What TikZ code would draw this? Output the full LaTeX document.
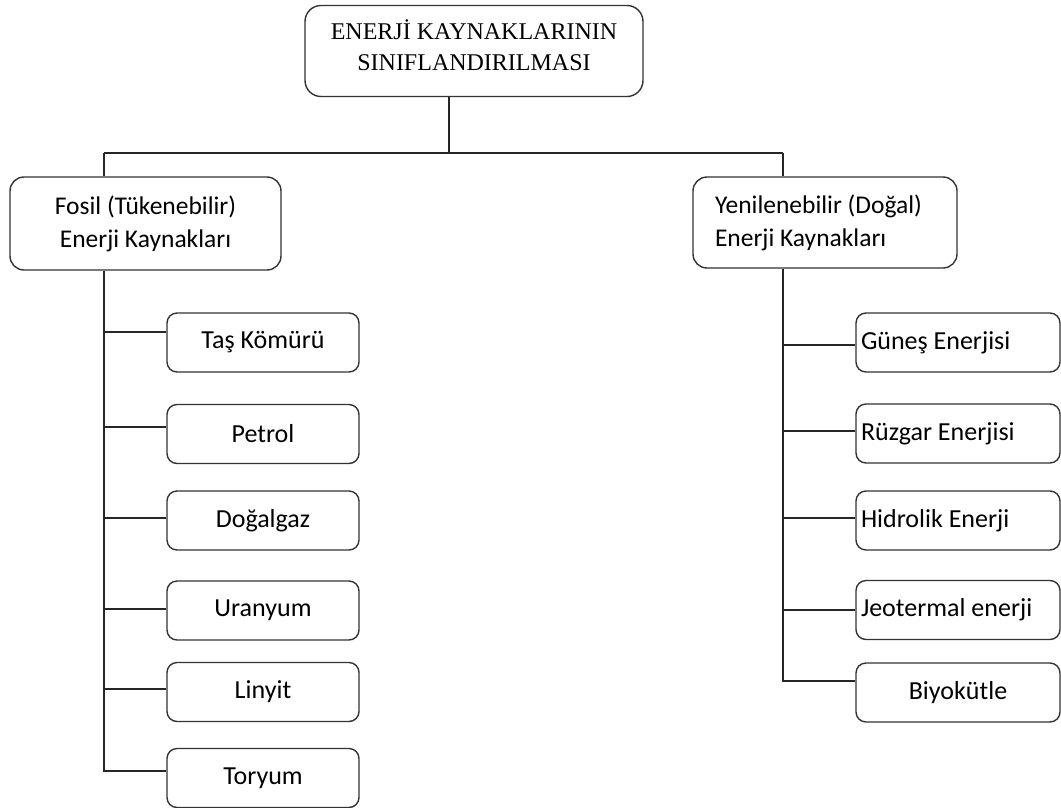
\documentclass[tikz,border=0pt]{standalone}
\usepackage{fontspec}
\setmainfont{Carlito}
\newfontfamily\topfont{Liberation Serif}
\begin{document}
\begin{tikzpicture}[x=1pt,y=-1pt,
  box/.style={draw=black!80,line width=1.4pt,rounded corners=10pt,inner sep=0pt,minimum height=59pt,minimum width=192pt,font=\fontsize{26}{30}\selectfont},
  rbox/.style={box,text width=194pt,inner xsep=5pt,align=flush left},
  conn/.style={draw=black!85,line width=1.3pt}]
\useasboundingbox (0,0) rectangle (1061,807);
\node[draw=black!80,line width=1.4pt,rounded corners=16pt,minimum width=338pt,minimum height=91pt] (top) at (474,51) {};
\node[align=center,font=\topfont\fontsize{24}{31}\selectfont] (toptext) at (474,45) {ENERJİ KAYNAKLARININ\\SINIFLANDIRILMASI};
\node[draw=black!80,line width=1.4pt,rounded corners=14pt,minimum width=271pt,minimum height=93pt,align=center,font=\fontsize{25.5}{33}\selectfont] (fos) at (145.5,223.5) {Fosil (Tükenebilir)\\Enerji Kaynakları};
\node[draw=black!80,line width=1.4pt,rounded corners=14pt,minimum height=91pt,text width=220pt,inner xsep=22pt,inner ysep=0pt,align=flush left,font=\fontsize{25.5}{33}\selectfont] (yen) at (825,222.5) {Yenilenebilir (Doğal)\\Enerji Kaynakları};
% left children
\node[box] (l1) at (263,342.5) {Taş Kömürü};
\node[box] (l2) at (263,434) {Petrol};
\node[box] (l3) at (263,520.5) {Doğalgaz};
\node[box] (l4) at (263,610.5) {Uranyum};
\node[box] (l5) at (263,692) {Linyit};
\node[box] (l6) at (263,778) {Toryum};
% right children
\node[rbox] (r1) at (958,342.5) {Güneş Enerjisi};
\node[rbox] (r2) at (958,433.5) {Rüzgar Enerjisi};
\node[rbox] (r3) at (958,520.5) {Hidrolik Enerji};
\node[rbox] (r4) at (958,610) {Jeotermal enerji};
\node[box,minimum width=204pt] (r5) at (958,692.5) {Biyokütle};
% coordinates
\coordinate (bus) at (449,153);
\coordinate (busL) at (104,153);
\coordinate (busR) at (783,153);
% connectors
\draw[conn] (top.south -| bus) -- (bus);
\draw[conn] (busL) -- (busR);
\draw[conn] (busL) -- (fos.north -| busL);
\draw[conn] (busR) -- (yen.north -| busR);
\draw[conn] (fos.south -| busL) -- (104,771) -- (l6.west |- 0,771);
\draw[conn] (104,332) -- (l1.west |- 0,332);
\draw[conn] (104,427) -- (l2.west |- 0,427);
\draw[conn] (104,518) -- (l3.west |- 0,518);
\draw[conn] (104,609) -- (l4.west |- 0,609);
\draw[conn] (104,689) -- (l5.west |- 0,689);
\draw[conn] (yen.south -| busR) -- (783,681) -- (r5.west |- 0,681);
\draw[conn] (783,345) -- (r1.west |- 0,345);
\draw[conn] (783,431) -- (r2.west |- 0,431);
\draw[conn] (783,518) -- (r3.west |- 0,518);
\draw[conn] (783,610) -- (r4.west |- 0,610);
\end{tikzpicture}
\end{document}
